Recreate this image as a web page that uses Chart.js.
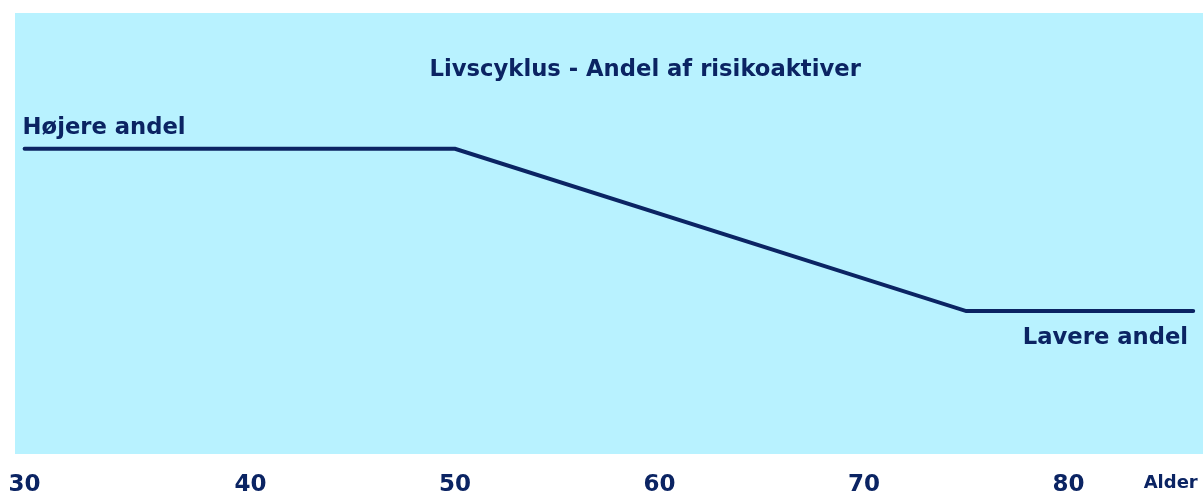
<!DOCTYPE html>
<html>
<head>
<meta charset="utf-8">
<script src="https://cdn.jsdelivr.net/npm/chart.js@4.4.1/dist/chart.umd.min.js"></script>
<style>
  html, body { margin: 0; padding: 0; background: #fff; }
  #wrap { width: 1203px; height: 493px; position: relative; }
</style>
</head>
<body>
<div id="wrap"><canvas id="chart"></canvas></div>
<script>
// Age (x) and share of risky assets (y, 0-100) at the corners of the line
const ages = [28.95, 50, 75, 86.1];
const riskShare = [69.2, 69.2, 32.4, 32.4];

// x axis ticks: positions on the age scale and the text shown there
const tickValues = [28.95, 40, 50, 60, 70, 80, 85];
const tickLabels = ['30', '40', '50', '60', '70', '80', 'Alder'];

const titleText = 'Livscyklus - Andel af risikoaktiver';
const highLabel = 'Højere andel';
const lowLabel = 'Lavere andel';

const NAVY = '#0b2463';
const FONT = '"DejaVu Sans", Verdana, sans-serif';

// text inside the plot area, anchored in data coordinates
const notes = [
    { text: titleText, x: 59.3, y: 85.7, align: 'center' },
    { text: highLabel, x: 28.85, y: 72.6, align: 'left' },
    { text: lowLabel, x: 85.85, y: 24.9, align: 'right' }
];

const plotBackground = {
    id: 'plotBackground',
    beforeDraw(chart) {
        const { ctx, chartArea: a } = chart;
        ctx.save();
        ctx.fillStyle = '#b8f2ff';
        ctx.fillRect(a.left, a.top, a.right - a.left, a.bottom - a.top);
        ctx.restore();
    },
    afterDatasetsDraw(chart) {
        const { ctx, scales: { x, y } } = chart;
        ctx.save();
        ctx.fillStyle = NAVY;
        ctx.font = `bold 22.7px ${FONT}`;
        ctx.textBaseline = 'alphabetic';
        notes.forEach(n => {
            ctx.textAlign = n.align;
            ctx.fillText(n.text, x.getPixelForValue(n.x), y.getPixelForValue(n.y));
        });
        ctx.restore();
    }
};

new Chart(document.getElementById('chart'), {
    type: 'line',
    data: {
        datasets: [{
            data: ages.map((a, i) => ({ x: a, y: riskShare[i] })),
            borderColor: NAVY,
            borderWidth: 4,
            pointRadius: 0,
            tension: 0,
            fill: false,
            borderCapStyle: 'round'
        }]
    },
    options: {
        responsive: true,
        maintainAspectRatio: false,
        animation: false,
        layout: { padding: { left: 15, top: 13, right: 0, bottom: -16 } },
        plugins: { legend: { display: false }, tooltip: { enabled: false } },
        scales: {
            x: {
                type: 'linear',
                min: 28.48,
                max: 86.58,
                grid: { display: false },
                border: { display: false },
                afterBuildTicks: s => { s.ticks = tickValues.map(v => ({ value: v })); },
                afterFit: s => { s.paddingLeft = 0; s.paddingRight = 0; },
                ticks: {
                    autoSkip: false,
                    maxRotation: 0,
                    padding: 12,
                    color: NAVY,
                    callback: (v, i) => tickLabels[i],
                    font: c => (c.index === tickLabels.length - 1)
                        ? { family: FONT, size: 18, weight: 'bold', lineHeight: 1 }
                        : { family: FONT, size: 23, weight: 'bold', lineHeight: 1 }
                }
            },
            y: {
                display: false,
                min: 0,
                max: 100
            }
        }
    },
    plugins: [plotBackground]
});
</script>
</body>
</html>
